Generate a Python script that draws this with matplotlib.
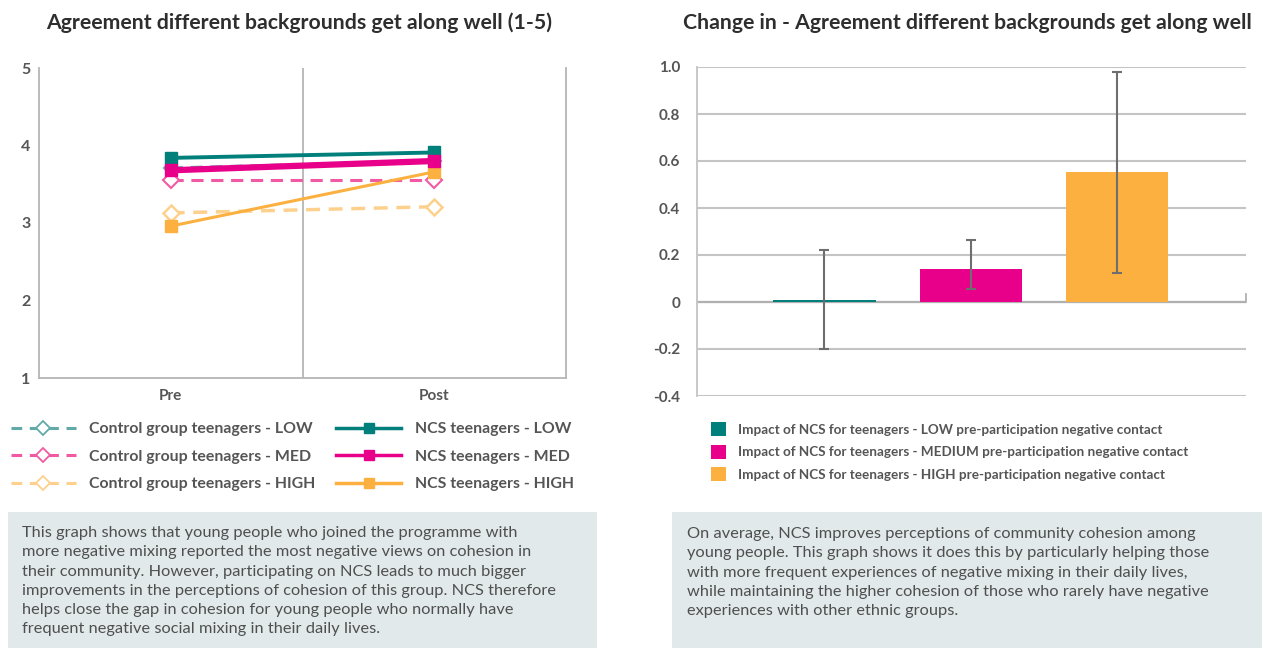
import matplotlib
matplotlib.use("Agg")
import matplotlib.pyplot as plt
from matplotlib.lines import Line2D
from matplotlib.patches import Patch, Rectangle
import numpy as np

# ---------------- data ----------------
periods = ["Pre", "Post"]
ctrl_low = [3.71, 3.80]
ctrl_med = [3.55, 3.55]
ctrl_high = [3.13, 3.21]
ncs_low = [3.84, 3.91]
ncs_med = [3.68, 3.80]
ncs_high = [2.96, 3.66]

left_yticks = [1, 2, 3, 4, 5]

bar_labels = [
    "Impact of NCS for teenagers - LOW pre-participation negative contact",
    "Impact of NCS for teenagers - MEDIUM pre-participation negative contact",
    "Impact of NCS for teenagers - HIGH pre-participation negative contact",
]
bar_values = [0.007, 0.14, 0.552]
ci_lower = [-0.20, 0.055, 0.123]
ci_upper = [0.22, 0.262, 0.979]
right_yticks = [-0.4, -0.2, 0, 0.2, 0.4, 0.6, 0.8, 1.0]
right_yticklabels = ["-0.4", "-0.2", "0", "0.2", "0.4", "0.6", "0.8", "1.0"]

left_title = "Agreement different backgrounds get along well (1-5)"
right_title = "Change in - Agreement different backgrounds get along well"
left_note = ("This graph shows that young people who joined the programme with\n"
             "more negative mixing reported the most negative views on cohesion in\n"
             "their community. However, participating on NCS leads to much bigger\n"
             "improvements in the perceptions of cohesion of this group. NCS therefore\n"
             "helps close the gap in cohesion for young people who normally have\n"
             "frequent negative social mixing in their daily lives.")
right_note = ("On average, NCS improves perceptions of community cohesion among\n"
              "young people. This graph shows it does this by particularly helping those\n"
              "with more frequent experiences of negative mixing in their daily lives,\n"
              "while maintaining the higher cohesion of those who rarely have negative\n"
              "experiences with other ethnic groups.")

# ---------------- style ----------------
TEAL = "#007f7b"
PINK = "#e9008a"
ORANGE = "#fbb040"
TEAL_L = "#62aaa7"
PINK_L = "#f15aa3"
ORANGE_L = "#fdd18d"
GRID = "#c4c4c4"
TXT = "#555555"
TITLE = "#2e2e2e"
BOX = "#e1e9ea"
FONT = "Lato"

W, H = 1263, 648
fig = plt.figure(figsize=(W / 100, H / 100), dpi=100)
fig.patch.set_facecolor("white")


def rect(l, t, r, b):
    return [l / W, 1 - b / H, (r - l) / W, (b - t) / H]


# ---------------- left chart ----------------
ax1 = fig.add_axes(rect(39, 68, 566, 378))
x = np.array([0.5, 1.5])
ax1.plot(x, ctrl_low, color=TEAL_L, lw=2.2, ls=(0, (4, 2.5)), marker="D", ms=7,
         mfc="white", mec=TEAL_L, mew=1.5, zorder=3)
ax1.plot(x, ctrl_med, color=PINK_L, lw=2.2, ls=(0, (4, 2.5)), marker="D", ms=8,
         mfc="white", mec=PINK_L, mew=1.5, zorder=3)
ax1.plot(x, ctrl_high, color=ORANGE_L, lw=2.5, ls=(0, (4, 2.5)), marker="D", ms=8,
         mfc="white", mec=ORANGE_L, mew=1.8, zorder=3)
ax1.plot(x, ncs_low, color=TEAL, lw=2.8, marker="s", ms=8, mfc=TEAL, mec=TEAL, zorder=4)
ax1.plot(x, ncs_med, color=PINK, lw=4.5, marker="s", ms=9, mfc=PINK, mec=PINK, zorder=5)
ax1.plot(x, ncs_high, color=ORANGE, lw=2.2, marker="s", ms=8, mfc=ORANGE, mec=ORANGE, zorder=4)
ax1.set_xlim(0, 2)
ax1.set_ylim(1, 5)
ax1.axvline(1, color="#b5b5b5", lw=1.3, zorder=1)
ax1.set_xticks(x)
ax1.set_xticklabels(periods, fontsize=11, color=TXT, family=FONT, fontweight="bold")
ax1.set_yticks(left_yticks)
ax1.set_yticklabels([str(v) for v in left_yticks], fontsize=11.5, color=TXT,
                    family=FONT, fontweight="bold")
ax1.tick_params(axis="y", length=0, pad=6)
ax1.tick_params(axis="x", length=0, pad=8)
for s in ["left", "right", "bottom"]:
    ax1.spines[s].set_color("#b5b5b5")
    ax1.spines[s].set_linewidth(1.3)
ax1.spines["top"].set_visible(False)

fig.text(299 / W, 1 - 23 / H, left_title, ha="center", va="center", fontsize=15.3,
         fontweight="bold", color=TITLE, family=FONT)

handles = [
    Line2D([], [], color=TEAL_L, lw=2.2, ls=(0, (3.5, 2.5)), marker="D", ms=7, mfc="white", mec=TEAL_L, mew=1.3),
    Line2D([], [], color=PINK_L, lw=2.2, ls=(0, (3.5, 2.5)), marker="D", ms=7, mfc="white", mec=PINK_L, mew=1.3),
    Line2D([], [], color=ORANGE_L, lw=2.2, ls=(0, (3.5, 2.5)), marker="D", ms=7, mfc="white", mec=ORANGE_L, mew=1.3),
    Line2D([], [], color=TEAL, lw=2.5, marker="s", ms=7, mfc=TEAL, mec=TEAL),
    Line2D([], [], color=PINK, lw=2.5, marker="s", ms=7, mfc=PINK, mec=PINK),
    Line2D([], [], color=ORANGE, lw=2.5, marker="s", ms=7, mfc=ORANGE, mec=ORANGE),
]
labels = ["Control group teenagers - LOW", "Control group teenagers - MED",
          "Control group teenagers - HIGH", "NCS teenagers - LOW",
          "NCS teenagers - MED", "NCS teenagers - HIGH"]
leg = fig.legend(handles, labels, ncol=2, loc="upper left",
                 bbox_to_anchor=(11 / W, 1 - 422 / H), frameon=False,
                 prop={"family": FONT, "weight": "bold", "size": 11.4},
                 handlelength=4.1, handletextpad=0.85, columnspacing=1.3,
                 labelspacing=0.86, borderpad=0, borderaxespad=0)
for t in leg.get_texts():
    t.set_color(TXT)

# ---------------- right chart ----------------
ax2 = fig.add_axes(rect(697, 67, 1246, 396))
xb = np.arange(len(bar_values))
colors = [TEAL, PINK, ORANGE]
ax2.bar(xb, bar_values, width=0.7, color=colors, zorder=3)
vals = np.array(bar_values)
yerr = np.vstack([vals - np.array(ci_lower), np.array(ci_upper) - vals])
ax2.errorbar(xb, vals, yerr=yerr, fmt="none", ecolor="#6e6e6e", elinewidth=1.5,
             capsize=3.5, capthick=1.5, zorder=4)
ax2.set_xlim(-0.87, 2.88)
ax2.set_ylim(-0.4, 1.0)
ax2.set_yticks(right_yticks)
ax2.set_yticklabels(right_yticklabels, fontsize=11, color=TXT, family=FONT, fontweight="bold")
ax2.yaxis.grid(True, color=GRID, lw=1.5, zorder=0)
ax2.set_axisbelow(True)
ax2.set_xticks([])
ax2.tick_params(length=0, pad=12)
for s in ["top", "right", "bottom"]:
    ax2.spines[s].set_visible(False)
ax2.spines["left"].set_color(GRID)
ax2.spines["left"].set_linewidth(1.3)
ax2.axhline(0, color="#b0b0b0", lw=1.6, zorder=2)
ax2.axvline(2.88, ymin=0.2857, ymax=0.31, color="#b0b0b0", lw=1.3, clip_on=False)

fig.text(683 / W, 1 - 23 / H, right_title, ha="left", va="center", fontsize=15.3,
         fontweight="bold", color=TITLE, family=FONT)

bhandles = [Patch(facecolor=c, edgecolor="none") for c in colors]
leg2 = fig.legend(bhandles, bar_labels, loc="upper left",
                  bbox_to_anchor=(711 / W, 1 - 422 / H), frameon=False,
                  prop={"family": FONT, "weight": "bold", "size": 9.7},
                  handlelength=1.15, handleheight=1.25, handletextpad=0.85,
                  labelspacing=0.62, borderpad=0, borderaxespad=0)
for t in leg2.get_texts():
    t.set_color(TXT)

# ---------------- note boxes ----------------
fig.patches.append(Rectangle((8 / W, 0), (597 - 8) / W, (648 - 512) / H,
                             transform=fig.transFigure, facecolor=BOX, edgecolor="none", zorder=0))
fig.patches.append(Rectangle((672 / W, 0), (1262 - 672) / W, (648 - 512) / H,
                             transform=fig.transFigure, facecolor=BOX, edgecolor="none", zorder=0))
fig.text(22 / W, 1 - 526 / H, left_note, ha="left", va="top", fontsize=11.8,
         color="#4f4f4f", family=FONT, linespacing=1.48)
fig.text(687 / W, 1 - 527 / H, right_note, ha="left", va="top", fontsize=11.8,
         color="#4f4f4f", family=FONT, linespacing=1.48)

fig.savefig("out.png", dpi=100, facecolor="white")
